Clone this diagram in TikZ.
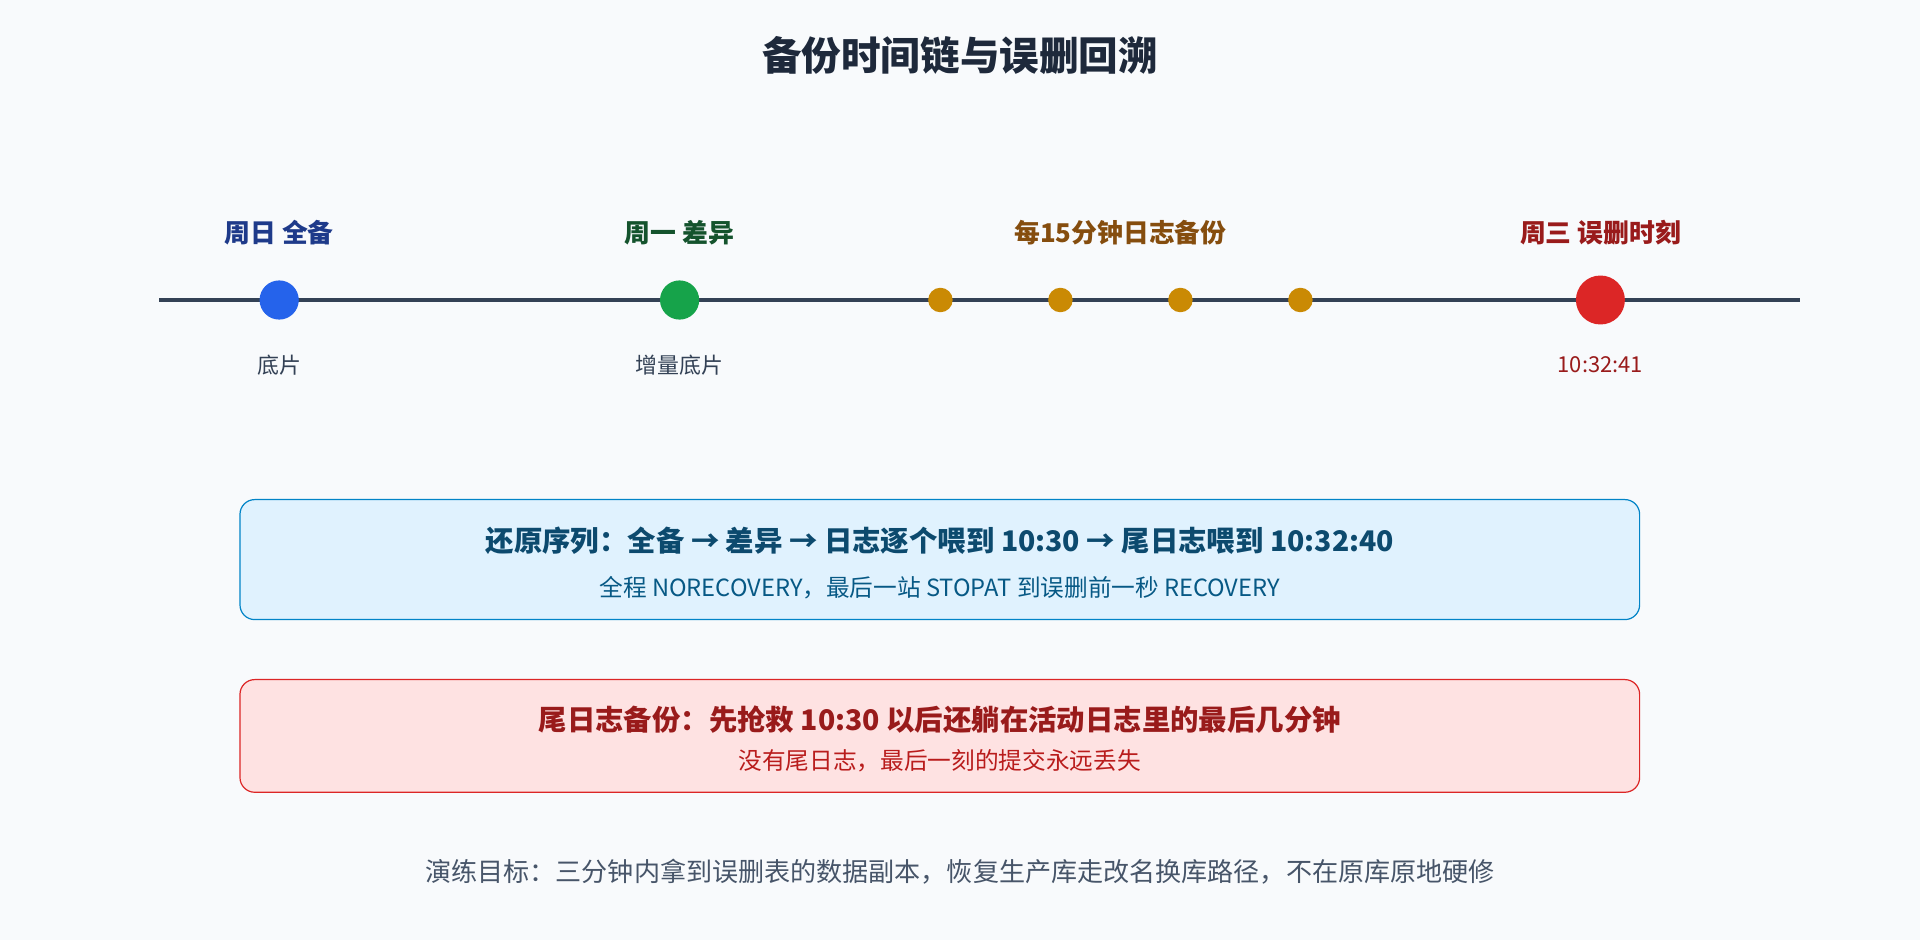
\documentclass[tikz,border=0pt]{standalone}
\usepackage{fontspec}
\setmainfont{Noto Sans CJK SC}
\usepackage{tikz}
\usetikzlibrary{positioning}
\definecolor{bg}{HTML}{F8FAFC}
\definecolor{ink}{HTML}{1E293B}
\definecolor{line}{HTML}{334155}
\definecolor{cblue}{HTML}{2563EB}
\definecolor{cgreen}{HTML}{16A34A}
\definecolor{corange}{HTML}{CA8A04}
\definecolor{cred}{HTML}{DC2626}
\definecolor{tblue}{HTML}{1E3A8A}
\definecolor{tgreen}{HTML}{14532D}
\definecolor{torange}{HTML}{854D0E}
\definecolor{tred}{HTML}{991B1B}
\definecolor{skyfill}{HTML}{E0F2FE}
\definecolor{skyline}{HTML}{0284C7}
\definecolor{skytext}{HTML}{0C4A6E}
\definecolor{skysub}{HTML}{075985}
\definecolor{rosefill}{HTML}{FEE2E2}
\definecolor{rosesub}{HTML}{B91C1C}
\definecolor{note}{HTML}{475569}

\begin{document}
\begin{tikzpicture}[x=0.5mm, y=-0.5mm,
		dot/.style={circle, inner sep=0pt, minimum size=#1},
		head/.style={font=\bfseries\fontsize{30}{34}\selectfont},
		sub/.style={font=\fontsize{25.5}{30}\selectfont},
		panel/.style={draw, rounded corners=6mm, line width=1.4pt, minimum width=571.5mm, minimum height=#1, inner sep=0pt}]
		\fill[bg] (0,0) rectangle (1568,768);
		\useasboundingbox (0,0) rectangle (1568,768);

		\node[font=\bfseries\fontsize{46}{52}\selectfont, text=ink] (title) at (784,45) {备份时间链与误删回溯};

		% timeline
		\coordinate (tl) at (130,245);
		\coordinate (tr) at (1470,245);
		\draw[line, line width=5pt] (tl) -- (tr);

		\node[dot=16mm, fill=cblue] (sun) at (228,245) {};
		\node[dot=16mm, fill=cgreen] (mon) at (555,245) {};
		\foreach \x/\n in {768/1, 866/2, 964/3, 1062/4}
			\node[dot=10mm, fill=corange] (log\n) at (\x,245) {};
		\node[dot=20mm, fill=cred] (wed) at (1307,245) {};

		\node[head, text=tblue] (sunlab) at (228,190) {周日 全备};
		\node[head, text=tgreen] (monlab) at (555,190) {周一 差异};
		\node[head, text=torange] (loglab) at (915,190) {每15分钟日志备份};
		\node[head, text=tred] (wedlab) at (1307,190) {周三 误删时刻};

		\node[sub, text=line] at (228,298) {底片};
		\node[sub, text=line] at (555,298) {增量底片};
		\node[sub, text=tred] at (1307,298) {10:32:41};

		% boxes
		\node[panel=49mm, draw=skyline, fill=skyfill] (seq) at (767.5,457) {};
		\node[font=\bfseries\fontsize{33}{38}\selectfont, text=skytext] at (767.5,442) {还原序列：全备 → 差异 → 日志逐个喂到 10:30 → 尾日志喂到 10:32:40};
		\node[font=\fontsize{27.5}{32}\selectfont, text=skysub] at (767.5,480) {全程 NORECOVERY，最后一站 STOPAT 到误删前一秒 RECOVERY};

		\node[panel=46mm, draw=cred, fill=rosefill] (tail) at (767.5,601) {};
		\node[font=\bfseries\fontsize{33}{38}\selectfont, text=tred] at (767.5,588) {尾日志备份：先抢救 10:30 以后还躺在活动日志里的最后几分钟};
		\node[font=\fontsize{27.5}{32}\selectfont, text=rosesub] at (767.5,621) {没有尾日志，最后一刻的提交永远丢失};

		\node[font=\fontsize{30.3}{35}\selectfont, text=note] (goal) at (784,712) {演练目标：三分钟内拿到误删表的数据副本，恢复生产库走改名换库路径，不在原库原地硬修};
	\end{tikzpicture}
\end{document}
